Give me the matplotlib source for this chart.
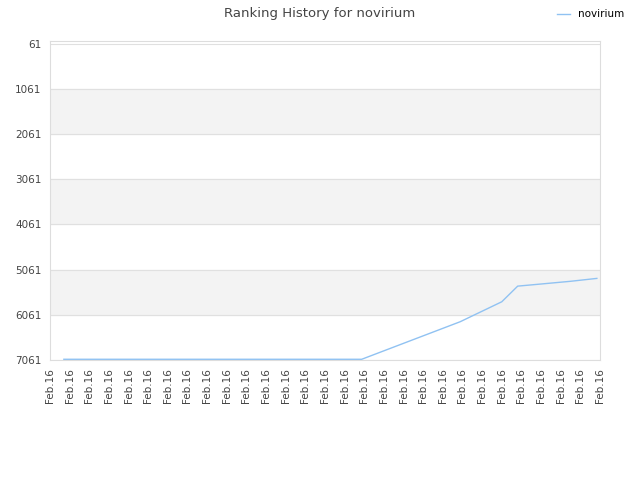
import matplotlib
matplotlib.use("Agg")
import matplotlib.pyplot as plt

# positions on the date axis (in tick units) and ranks
days = [0.71, 15.87, 20.88, 23.0, 23.81, 25.0, 26.5, 27.84]
ranks = [7045, 7045, 6215, 5773, 5427, 5380, 5320, 5256]

tick_labels = ["Feb.16"] * 29
y_ticks = [61, 1061, 2061, 3061, 4061, 5061, 6061, 7061]

fig = plt.figure(figsize=(6.4, 4.8), dpi=100)
ax = fig.add_axes([0.078, 0.25, 0.8595, 0.665])

# alternating grey bands
for i in range(len(y_ticks) - 1):
    if i % 2 == 1:
        ax.axhspan(y_ticks[i], y_ticks[i + 1], color="#f3f3f3", zorder=0)

ax.plot(days, ranks, color="#90c2f2", lw=1.0, label="novirium", zorder=3)

ax.set_xlim(0, len(tick_labels) - 1)
ax.set_ylim(7061, 0)
ax.set_xticks(range(len(tick_labels)))
ax.set_xticklabels(tick_labels, rotation=90, fontsize=7.5, color="#444444")
ax.set_yticks(y_ticks)
ax.set_yticklabels([str(v) for v in y_ticks], fontsize=7.5, color="#444444")
ax.tick_params(length=0, pad=6)

ax.yaxis.grid(True, color="#e0e0e0", lw=0.8)
ax.set_axisbelow(True)
for s in ax.spines.values():
    s.set_color("#dddddd")

fig.suptitle("Ranking History for novirium", x=0.5, y=0.985, fontsize=9.5,
             color="#444444")
fig.legend(loc="upper right", bbox_to_anchor=(0.99, 1.0), frameon=False,
           fontsize=7.5, handlelength=1.2, handletextpad=0.8)

fig.savefig("out.png", dpi=100)
